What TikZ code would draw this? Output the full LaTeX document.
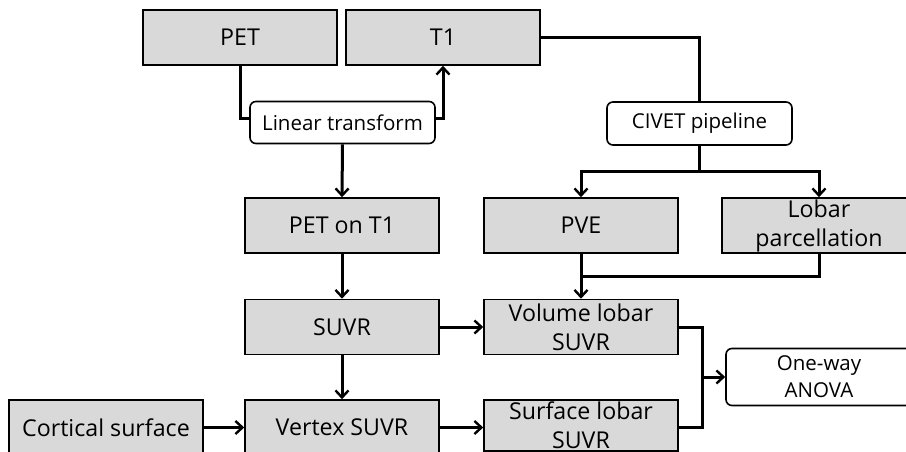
\documentclass[tikz,border=0pt]{standalone}
\usepackage{fontspec}
\setmainfont{Open Sans}
\usetikzlibrary{arrows.meta}
\begin{document}
\begin{tikzpicture}[x=1pt,y=-1pt,
  box/.style={draw=black, line width=1.6pt, fill=boxgray, rectangle, minimum width=194pt, minimum height=55pt, inner sep=0pt, align=center, font=\fontsize{23.2}{29}\selectfont},
  rbox/.style={draw=black, line width=1.6pt, fill=white, rectangle, rounded corners=6pt, inner sep=0pt, align=center, font=\fontsize{20.5}{27}\selectfont},
  conn/.style={draw=black, line width=3pt},
  arr/.style={conn, -{Straight Barb[length=7pt,width=13pt,line width=2.4pt]}}
]
\definecolor{boxgray}{RGB}{217,217,217}
\useasboundingbox (0,0) rectangle (906,452);
\clip (0,0) rectangle (906,452);
\fill[white] (0,0) rectangle (906,452);

\node[box] (pet) at (240,37.5) {PET};
\node[box] (t1) at (443,37.5) {T1};
\node[rbox, minimum width=185pt, minimum height=42pt] (lt) at (342.5,122.5) {Linear transform};
\node[box] (petont1) at (342,225.5) {PET on T1};
\node[box] (suvr) at (342,327) {SUVR};
\node[box] (vertex) at (342,427.5) {Vertex SUVR};
\node[box] (cortical) at (106,427.5) {Cortical surface};
\node[rbox, minimum width=185pt, minimum height=43pt] (civet) at (699.5,123.5) {CIVET pipeline};
\node[box] (pve) at (581,225.5) {PVE};
\node[box] (lobar) at (819,225.5) {Lobar\\parcellation};
\node[box] (vol) at (581,327) {Volume lobar\\SUVR};
\node[box, minimum height=51pt] (surf) at (581,425.5) {Surface lobar\\SUVR};
\node[rbox, minimum width=186pt, minimum height=57pt] (anova) at (819,377) {One-way\\ANOVA};

\coordinate (cs) at (699.5,171);
\coordinate (jn) at (581,276);
\coordinate (m) at (702,377);

\draw[conn] (pet.south) |- ([yshift=4pt]lt.west);
\draw[arr] ([yshift=4pt]lt.east) -| (t1.south);
\draw[arr] (lt.south) -- (petont1.north);
\draw[conn] (t1.east) -| (civet.north);
\draw[conn] (civet.south) -- (cs);
\draw[arr] (cs) -| (pve.north);
\draw[arr] (cs) -| (lobar.north);
\draw[arr] (pve.south) -- (vol.north);
\draw[conn] (lobar.south) |- (jn);
\draw[arr] (petont1.south) -- (suvr.north);
\draw[arr] (suvr.south) -- (vertex.north);
\draw[arr] (suvr.east) -- (vol.west);
\draw[arr] (cortical.east) -- (vertex.west);
\draw[arr] (vertex.east) -- ([yshift=-2pt]surf.west);
\draw[conn] (vol.east) -| (m) |- ([yshift=-2pt]surf.east);
\draw[arr] (m) -- (anova.west);
\end{tikzpicture}
\end{document}
